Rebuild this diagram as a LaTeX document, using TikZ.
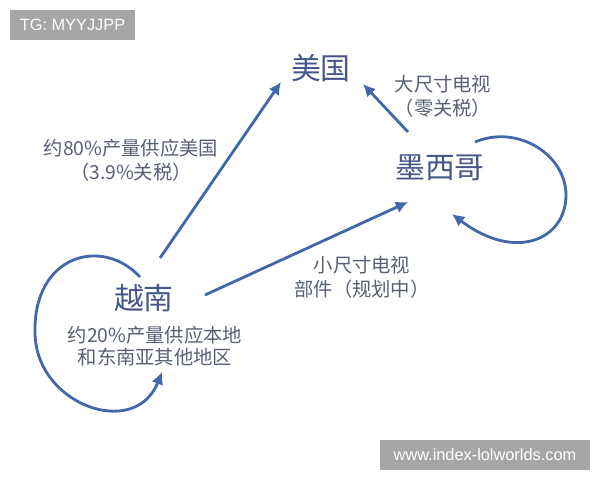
\documentclass[tikz,border=0pt]{standalone}
\usepackage{fontspec}
\setmainfont{Noto Sans CJK SC}
\newfontfamily\wmfont{Liberation Sans}
\usepackage{xcolor}
\definecolor{myblue}{RGB}{66, 103, 170}
\definecolor{titleblue}{RGB}{70, 88, 136}
\definecolor{notegray}{RGB}{88, 96, 118}
\definecolor{wmgray}{RGB}{166, 166, 166}
\usetikzlibrary{
    arrows.meta,
    positioning
}
\tikzstyle{country} = [
    text=titleblue,
    font=\fontsize{17}{20}\selectfont,
    inner sep=1pt
]
\tikzstyle{note} = [
    text=notegray,
    font=\fontsize{11}{13.6}\selectfont,
    align=center,
    inner sep=1pt
]
\tikzstyle{wmbox} = [
    fill=wmgray,
    text=white,
    font=\wmfont\fontsize{9.3}{11}\selectfont,
    minimum height=17pt,
    inner sep=0pt
]
\tikzstyle{flow} = [
    draw=myblue,
    line width=1.6pt,
    -{Latex[length=7pt,width=7pt]}
]

\begin{document}
\begin{tikzpicture}[
	x=0.02cm,
	y=-0.02cm
]
\fill[white] (0,0) rectangle (600,480);
\useasboundingbox (0,0) rectangle (600,480);

\node (usa) [country] at (321,68) {美国};
\node (mexico) [country] at (440,168) {墨西哥};
\node (vietnam) [country] at (144,298) {越南};
\node (vnnote) [note, font=\fontsize{11}{12.5}\selectfont] at (155,346)
    {约20\%产量供应本地\\和东南亚其他地区};
\node (usnote) [note] at (131,160) {约80\%产量供应美国\\（3.9\%关税）};
\node (bignote) [note] at (443,96) {大尺寸电视\\（零关税）};
\node (smallnote) [note] at (362,277) {小尺寸电视\\部件（规划中）};

\draw [flow] ([shift={(16,-40)}]vietnam.center) -- ([shift={(-40,14)}]usa.center);
\draw [flow] ([shift={(61,-3)}]vietnam.center) -- ([shift={(-32,34)}]mexico.center);
\draw [flow] ([shift={(-32,-36)}]mexico.center) -- ([shift={(42,16)}]usa.center);

% Schleifen
\draw [flow] ([shift={(35,-26)}]mexico.center)
    .. controls (518,124) and (566,155) .. (566,195)
    .. controls (566,240) and (515,262) .. ([shift={(12,46)}]mexico.center);
\draw [flow] ([shift={(-4,-21)}]vietnam.center)
    .. controls (102,236) and (33,255) .. (35,333)
    .. controls (36,405) and (135,440) .. ([shift={(18,74)}]vietnam.center);

\node (tg) [wmbox, minimum width=71pt] at (72.5,25) {TG: MYYJJPP};
\node (site) [wmbox, minimum width=119pt] at (485,455) {www.index-lolworlds.com};

\end{tikzpicture}
\end{document}
